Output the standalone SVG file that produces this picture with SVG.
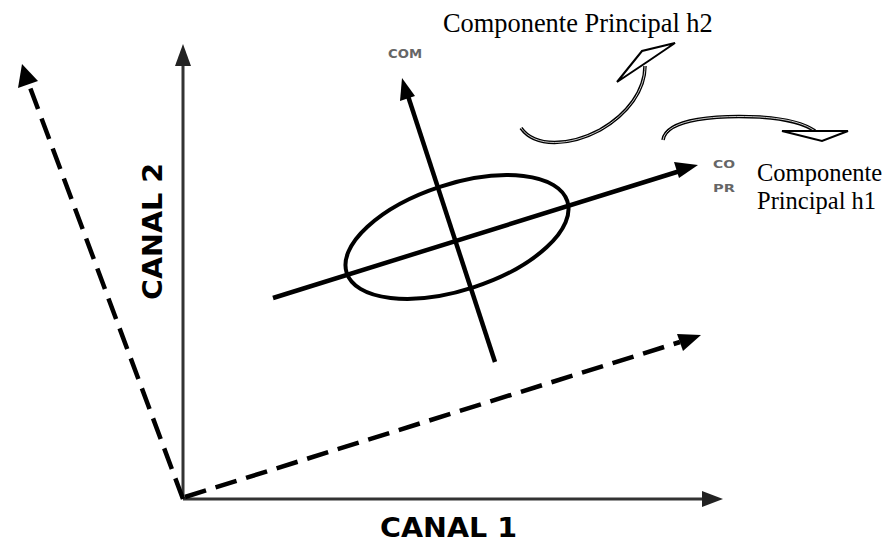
<svg xmlns="http://www.w3.org/2000/svg" width="893" height="543" viewBox="0 0 893 543">
<style>
.axis{stroke:#333;stroke-width:3;fill:none}
.dash{stroke:#000;stroke-width:4.5;fill:none;stroke-dasharray:22 10}
.pc{stroke:#000;stroke-width:4.5;fill:none}
.lbl{font-family:"DejaVu Sans",sans-serif;font-weight:bold;fill:#000}
.small{font-family:"DejaVu Sans",sans-serif;font-weight:bold;fill:#666}
.serif{font-family:"Liberation Serif","Times New Roman",serif;fill:#000;font-size:24.5px}
.curve{fill:none;stroke:#000;stroke-width:3.5}
.curvein{fill:none;stroke:#fff;stroke-width:0.8}
.head{fill:#fff;stroke:#000;stroke-width:2;stroke-linejoin:miter}
</style>
<rect width="893" height="543" fill="#fff"/>
<g id="connectors">
  <line class="axis" x1="183" y1="499" x2="183" y2="62"/>
  <polygon points="183,44 175,66 191,66" fill="#222"/>
  <line class="axis" x1="183" y1="499" x2="705" y2="499"/>
  <polygon points="723,499 702,491 702,507" fill="#222"/>
  <line class="dash" x1="183" y1="499" x2="28" y2="82"/>
  <polygon points="22,64 18,88 38,81" fill="#000"/>
  <line class="dash" x1="185" y1="497" x2="680" y2="342"/>
  <polygon points="701,335 677,334 683,351" fill="#000"/>
  <line class="pc" x1="273" y1="298" x2="680" y2="171"/>
  <polygon points="698,165 674,162 679,178" fill="#000"/>
  <line class="pc" x1="495" y1="362" x2="408" y2="96"/>
  <polygon points="402,78 400,101 415,96" fill="#000"/>
</g>
<g id="ellipse">
  <ellipse cx="457" cy="237" rx="116" ry="53" transform="rotate(-18 457 237)" fill="none" stroke="#000" stroke-width="4"/>
</g>
<g id="canal1">
  <text class="lbl" x="380" y="537" font-size="26" textLength="137" lengthAdjust="spacingAndGlyphs">CANAL 1</text>
</g>
<g id="canal2">
  <text class="lbl" font-size="26" transform="translate(162,300) rotate(-90)" textLength="137" lengthAdjust="spacingAndGlyphs">CANAL 2</text>
</g>
<g id="remnants">
  <text class="small" x="388" y="58" font-size="12" textLength="34" lengthAdjust="spacingAndGlyphs">COM</text>
  <text class="small" x="713" y="168" font-size="11" textLength="22" lengthAdjust="spacingAndGlyphs">CO</text>
  <text class="small" x="713" y="192" font-size="11" textLength="22" lengthAdjust="spacingAndGlyphs">PR</text>
</g>
<g id="h2">
  <text class="serif" x="443" y="32" style="font-size:26.4px">Componente Principal h2</text>
  <path class="curve" d="M521,128 C535,148 570,146 600,130 C628,114 645,90 645,66"/>
  <path class="curvein" d="M521,128 C535,148 570,146 600,130 C628,114 645,90 645,66"/>
  <polygon class="head" points="617,82 642,51 675,43 647,62"/>
</g>
<g id="h1">
  <text class="serif" x="757" y="181">Componente</text>
  <text class="serif" x="757" y="209">Principal h1</text>
  <path class="curve" d="M663,140 C666,118 720,115 760,117 C790,119 805,124 815,131"/>
  <path class="curvein" d="M663,140 C666,118 720,115 760,117 C790,119 805,124 815,131"/>
  <polygon class="head" points="782,131 848,131 822,141"/>
</g>
</svg>
